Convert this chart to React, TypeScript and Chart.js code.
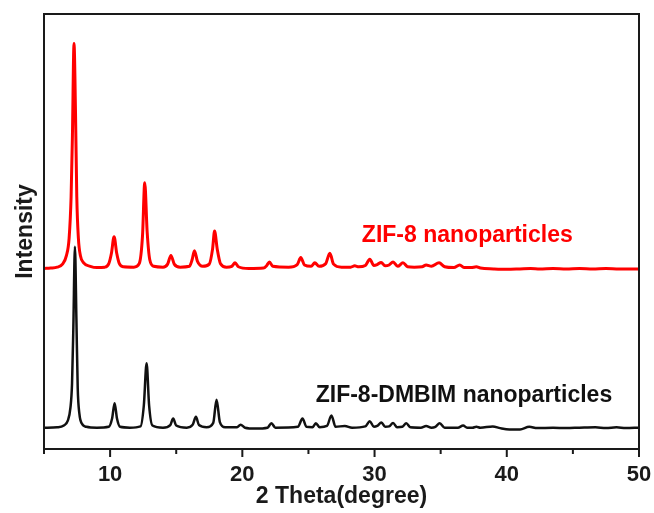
import React, { useEffect, useRef } from "react";
import { Chart, registerables } from "chart.js";

Chart.register(...registerables);

const X_MIN = 5;
const X_MAX = 50;
const Y_MIN = 0;
const Y_MAX = 100;
const X_TICKS = [10, 20, 30, 40, 50];
const X_MINOR_TICKS = [5, 15, 25, 35, 45];
const X_TITLE = "2 Theta(degree)";
const Y_TITLE = "Intensity";

const RED_NAME = "ZIF-8 nanoparticles";
const BLACK_NAME = "ZIF-8-DMBIM nanoparticles";

// ZIF-8 nanoparticles (red, offset upward)
const RED_THETA = [
  5.0, 5.5, 6.0, 6.4, 6.7, 6.9, 7.05, 7.15, 7.27, 7.38, 7.48, 7.6, 7.75, 8.0, 8.5, 9.0,
  9.6, 9.9, 10.1, 10.3, 10.5, 10.7, 11.0, 11.8, 12.2, 12.45, 12.62, 12.8, 13.0, 13.3,
  14.0, 14.35, 14.6, 14.85, 15.3, 16.0, 16.2, 16.38, 16.6, 17.0, 17.5, 17.75, 17.9, 18.1,
  18.35, 18.8, 19.2, 19.45, 19.7, 20.5, 21.6, 21.85, 22.05, 22.3, 23.5, 24.15, 24.42,
  24.7, 25.2, 25.48, 25.8, 26.3, 26.62, 26.9, 27.5, 28.2, 28.5, 28.8, 29.3, 29.64, 29.95,
  30.2, 30.5, 30.8, 31.1, 31.4, 31.75, 32.15, 32.5, 33.0, 33.6, 33.9, 34.3, 34.88, 35.3,
  36.0, 36.44, 36.8, 37.3, 37.7, 38.0, 39.0, 40.0, 41.0, 41.8, 42.5, 43.5, 44.5, 45.5,
  46.5, 47.5, 48.5, 50.0,
];
const RED_INTENSITY = [
  41.5, 41.6, 41.8, 42.5, 44.5, 48.5, 58, 72, 93.2, 78, 58, 48.5, 44.5, 42.8, 42.0, 41.7,
  41.8, 42.6, 45, 48.8, 45, 42.6, 41.9, 41.8, 42.6, 49, 61.2, 50, 43.5, 42.0,
  41.8, 42.5, 44.5, 42.5, 41.8, 42.0, 43.5, 45.6, 43.2, 42.0, 42.5, 46, 50.1, 46,
  42.6, 41.8, 42.0, 42.8, 41.9, 41.5, 41.6, 42.2, 43.0, 42.0, 41.8, 42.4, 44.0,
  42.3, 42.0, 42.8, 42.0, 42.6, 45.0, 42.5, 41.8, 41.8, 42.1, 41.9, 42.2, 43.6, 42.2,
  42.4, 42.9, 42.1, 42.3, 43.0, 42.0, 42.8, 41.9, 41.8, 41.9, 42.3, 42.0, 42.8, 41.9,
  41.7, 42.3, 41.7, 41.7, 41.9, 41.6, 41.4, 41.3, 41.4, 41.5, 41.4, 41.5, 41.4, 41.5,
  41.4, 41.5, 41.4, 41.4,
];

// ZIF-8-DMBIM nanoparticles (black)
const BLACK_THETA = [
  5.0, 6.0, 6.5, 6.8, 7.0, 7.12, 7.22, 7.34, 7.45, 7.55, 7.68, 7.85, 8.2, 9.0,
  9.9, 10.15, 10.34, 10.52, 10.75, 11.5, 12.3, 12.55, 12.76, 12.95, 13.2, 14.0,
  14.55, 14.77, 15.0, 15.8, 16.25, 16.49, 16.72, 17.3, 17.8, 18.05, 18.3, 18.7,
  19.6, 19.87, 20.2, 21.0, 21.9, 22.2, 22.5, 24.2, 24.55, 24.85, 25.3, 25.56, 25.85,
  26.4, 26.74, 27.05, 27.75, 28.3, 29.3, 29.64, 29.95, 30.2, 30.52, 30.8, 31.1, 31.4,
  31.7, 32.1, 32.4, 32.7, 33.5, 33.9, 34.3, 34.6, 34.93, 35.3, 36.3, 36.7, 37.0, 37.4,
  37.7, 38.0, 38.94, 39.5, 40.2, 41.0, 41.7, 42.3, 43.5, 44.5, 45.5, 46.7, 47.5, 48.3,
  49.0, 50.0,
];
const BLACK_INTENSITY = [
  4.9, 5.0, 5.4, 6.5, 9.5, 15, 28, 46.5, 30, 14, 8, 5.9, 5.1, 4.9,
  5.1, 7, 10.5, 7, 5.1, 4.9, 5.2, 10, 19.7, 10, 5.4, 4.9,
  5.5, 7.0, 5.4, 4.9, 5.6, 7.4, 5.5, 5.0, 6.0, 11.3, 6.2, 5.0,
  5.0, 5.6, 4.9, 4.7, 4.9, 5.9, 4.9, 5.1, 7.0, 5.1, 5.0, 5.9, 5.0,
  5.3, 7.7, 5.1, 5.3, 4.9, 5.2, 6.4, 5.1, 5.3, 6.1, 5.1, 5.2, 6.0,
  5.0, 5.1, 5.9, 5.0, 4.9, 5.3, 4.9, 5.1, 5.9, 4.9, 4.9, 5.4, 4.9, 4.9,
  5.1, 4.9, 5.2, 4.8, 4.5, 4.5, 5.1, 4.8, 4.9, 4.8, 4.9, 5.0, 4.8, 5.0,
  4.8, 4.9,
];

// label anchors (data coordinates: left edge theta, baseline intensity)
const RED_LABEL_AT = [29.04, 47.7];
const BLACK_LABEL_AT = [25.55, 10.9];

const FONT = "Arial, 'Liberation Sans', Helvetica, sans-serif";

export default function App() {
  const ref = useRef<HTMLCanvasElement | null>(null);

  useEffect(() => {
    const canvas = ref.current;
    if (!canvas) return;

    const framePlugin = {
      id: "frameAndLabels",
      afterDraw(chart: any) {
        const { ctx, chartArea, scales } = chart;
        const { left, right, top, bottom } = chartArea;
        ctx.save();
        ctx.strokeStyle = "#1a1a1a";
        ctx.lineWidth = 2;
        ctx.strokeRect(left, top, right - left, bottom - top);
        const xs = scales.x;
        ctx.beginPath();
        X_TICKS.forEach((v) => {
          const px = xs.getPixelForValue(v);
          ctx.moveTo(px, bottom);
          ctx.lineTo(px, bottom + 8);
        });
        X_MINOR_TICKS.forEach((v) => {
          const px = xs.getPixelForValue(v);
          ctx.moveTo(px, bottom);
          ctx.lineTo(px, bottom + 5);
        });
        ctx.stroke();

        const ys = scales.y;
        ctx.font = `bold 23px ${FONT}`;
        ctx.textAlign = "left";
        ctx.textBaseline = "alphabetic";
        ctx.fillStyle = "#ff0000";
        ctx.fillText(RED_NAME, xs.getPixelForValue(RED_LABEL_AT[0]), ys.getPixelForValue(RED_LABEL_AT[1]));
        ctx.fillStyle = "#111111";
        ctx.fillText(BLACK_NAME, xs.getPixelForValue(BLACK_LABEL_AT[0]), ys.getPixelForValue(BLACK_LABEL_AT[1]));
        ctx.restore();
      },
    };

    const chart = new Chart(canvas, {
      type: "line",
      data: {
        datasets: [
          {
            label: BLACK_NAME,
            data: BLACK_THETA.map((t, i) => ({ x: t, y: BLACK_INTENSITY[i] })),
            borderColor: "#111111",
            borderWidth: 2.5,
            pointRadius: 0,
            cubicInterpolationMode: "monotone",
            fill: false,
          },
          {
            label: RED_NAME,
            data: RED_THETA.map((t, i) => ({ x: t, y: RED_INTENSITY[i] })),
            borderColor: "#ff0000",
            borderWidth: 3,
            pointRadius: 0,
            cubicInterpolationMode: "monotone",
            fill: false,
          },
        ],
      },
      options: {
        responsive: false,
        animation: false,
        events: [],
        layout: { padding: { left: 0, right: 15, top: 14, bottom: 0 } },
        plugins: {
          legend: { display: false },
          tooltip: { enabled: false },
        },
        scales: {
          x: {
            type: "linear",
            min: X_MIN,
            max: X_MAX,
            grid: { display: false, drawTicks: false },
            border: { display: false },
            afterBuildTicks: (s: any) => {
              s.ticks = X_TICKS.map((v) => ({ value: v }));
            },
            afterFit: (s: any) => {
              s.height = 64;
              s.paddingLeft = 0;
              s.paddingRight = 0;
            },
            ticks: {
              padding: 13,
              color: "#1a1a1a",
              font: { family: FONT, size: 22, weight: "bold" },
              maxRotation: 0,
              autoSkip: false,
            },
            title: {
              display: true,
              text: X_TITLE,
              color: "#1a1a1a",
              font: { family: FONT, size: 23, weight: "bold" },
              padding: { top: 0, bottom: 2.5 },
            },
          },
          y: {
            type: "linear",
            min: Y_MIN,
            max: Y_MAX,
            grid: { display: false, drawTicks: false },
            border: { display: false },
            ticks: { display: false },
            afterFit: (s: any) => {
              s.width = 44;
              s.paddingTop = 0;
              s.paddingBottom = 0;
            },
            title: {
              display: true,
              text: Y_TITLE,
              color: "#1a1a1a",
              font: { family: FONT, size: 23, weight: "bold" },
              padding: { top: 11.5, bottom: 0 },
            },
          },
        },
      },
      plugins: [framePlugin],
    } as any);

    return () => chart.destroy();
  }, []);

  return (
    <div style={{ position: "fixed", left: 0, top: 0, width: 654, height: 513, background: "#ffffff" }}>
      <canvas ref={ref} width={654} height={513} style={{ display: "block", width: 654, height: 513 }} />
    </div>
  );
}
